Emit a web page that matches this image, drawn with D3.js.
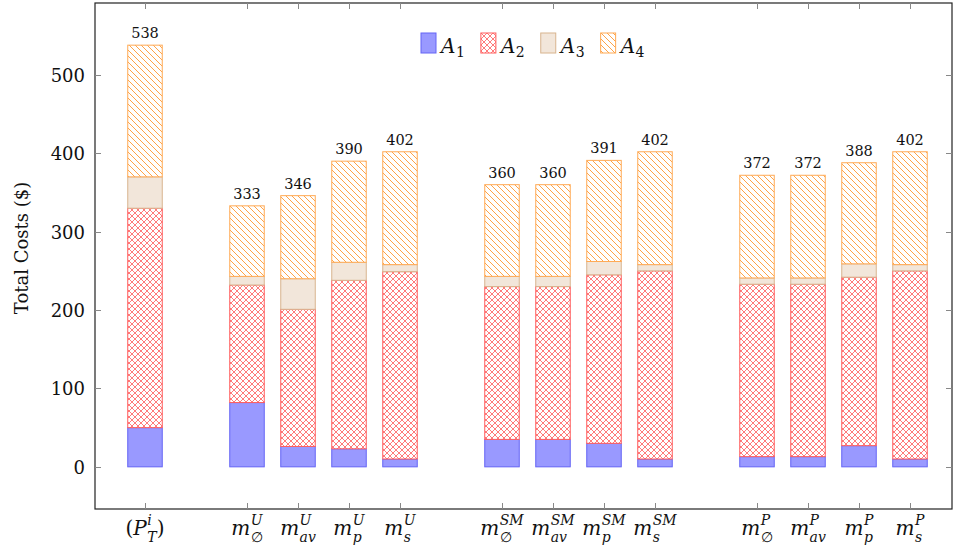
<!DOCTYPE html>
<html>
<head>
<meta charset="utf-8">
<script src="https://cdn.jsdelivr.net/npm/d3@7"></script>
<style>
  html, body { margin: 0; padding: 0; background: #fff; }
  svg { display: block; }
</style>
</head>
<body>
<svg id="chart" width="953" height="547" font-family="'DejaVu Serif', 'Liberation Serif', serif"></svg>
<script>
// Cost components per strategy (in $)
const categories = ["(P_{T}^{i})",
  "m_{∅}^{U}", "m_{av}^{U}", "m_{p}^{U}", "m_{s}^{U}",
  "m_{∅}^{SM}", "m_{av}^{SM}", "m_{p}^{SM}", "m_{s}^{SM}",
  "m_{∅}^{P}", "m_{av}^{P}", "m_{p}^{P}", "m_{s}^{P}"];
const groups = ["T", "U", "U", "U", "U", "SM", "SM", "SM", "SM", "P", "P", "P", "P"];
const seriesNames = ["A_1", "A_2", "A_3", "A_4"];
const A1 = [50, 82, 26, 23, 10, 35, 35, 30, 10, 13, 13, 27, 10];
const A2 = [280, 150, 175, 215, 239, 195, 195, 215, 240, 220, 220, 215, 240];
const A3 = [40, 11, 39, 23, 9, 13, 13, 17, 8, 8, 8, 17, 8];
const A4 = [168, 90, 106, 129, 144, 117, 117, 129, 144, 131, 131, 129, 144];
const yTicks = [0, 100, 200, 300, 400, 500];
const yLabel = "Total Costs ($)";

const svg = d3.select("#chart");
const plot = { left: 95, right: 952, top: 3, bottom: 509 };

// slot list: one empty slot between consecutive groups
const slots = [];
categories.forEach((c, i) => {
  if (i > 0 && groups[i] !== groups[i - 1]) slots.push("__gap" + i);
  slots.push(c);
});

const x = d3.scalePoint().domain(slots).range([plot.left + 50, plot.right - 42]);
const barW = 34.5;

const totals = categories.map((c, i) => A1[i] + A2[i] + A3[i] + A4[i]);
const yMax = d3.max(totals);
const pad = yMax * 0.1;
const y = d3.scaleLinear().domain([-pad, yMax + pad]).range([plot.bottom, plot.top]);

// fill patterns
const defs = svg.append("defs");
const p2 = defs.append("pattern").attr("id", "crosshatch")
  .attr("patternUnits", "userSpaceOnUse").attr("width", 6).attr("height", 6);
p2.append("rect").attr("width", 6).attr("height", 6).attr("fill", "#fff");
p2.append("path").attr("d", "M0,0L6,6M6,0L0,6")
  .attr("stroke", "#ff7a7a").attr("stroke-width", 1).attr("fill", "none");

const p4 = defs.append("pattern").attr("id", "nwlines")
  .attr("patternUnits", "userSpaceOnUse").attr("width", 6).attr("height", 6);
p4.append("rect").attr("width", 6).attr("height", 6).attr("fill", "#fff");
p4.append("path").attr("d", "M0,0L6,6M-1,5L1,7M5,-1L7,1")
  .attr("stroke", "#ffa347").attr("stroke-width", 1).attr("fill", "none");

const styles = [
  { fill: "#9999ff", stroke: "#6464f5" },
  { fill: "url(#crosshatch)", stroke: "#ff5c5c" },
  { fill: "#f2e6da", stroke: "#d8b48e" },
  { fill: "url(#nwlines)", stroke: "#ffaa55" }
];

const stackData = categories.map((c, i) => ({ cat: c, A_1: A1[i], A_2: A2[i], A_3: A3[i], A_4: A4[i] }));
const stacked = d3.stack().keys(seriesNames)(stackData);

const bars = svg.append("g");
stacked.forEach((layer, li) => {
  bars.append("g").selectAll("rect").data(layer).join("rect")
    .attr("x", d => x(d.data.cat) - barW / 2)
    .attr("width", barW)
    .attr("y", d => y(d[1]))
    .attr("height", d => y(d[0]) - y(d[1]))
    .attr("fill", styles[li].fill)
    .attr("stroke", styles[li].stroke)
    .attr("stroke-width", 1);
});

// totals above bars
svg.append("g").selectAll("text").data(categories).join("text")
  .attr("x", c => x(c))
  .attr("y", (c, i) => y(totals[i]) - 7)
  .attr("text-anchor", "middle")
  .attr("font-size", 14.5)
  .attr("fill", "#111")
  .text((c, i) => totals[i]);

// frame
const frame = svg.append("g");
frame.append("rect")
  .attr("x", plot.left).attr("y", plot.top)
  .attr("width", plot.right - plot.left).attr("height", plot.bottom - plot.top)
  .attr("fill", "none").attr("stroke", "#222").attr("stroke-width", 1.2);

// y ticks (inside, both sides)
const tickLen = 6;
yTicks.forEach(v => {
  const yy = Math.round(y(v)) + 0.5;
  frame.append("line").attr("x1", plot.left).attr("x2", plot.left + tickLen)
    .attr("y1", yy).attr("y2", yy).attr("stroke", "#888").attr("stroke-width", 1);
  frame.append("line").attr("x1", plot.right).attr("x2", plot.right - tickLen)
    .attr("y1", yy).attr("y2", yy).attr("stroke", "#888").attr("stroke-width", 1);
  frame.append("text").attr("x", plot.left - 10).attr("y", yy + 6.5)
    .attr("text-anchor", "end").attr("font-size", 18).attr("fill", "#111").text(v);
});

// x ticks (inside, bottom and top)
categories.forEach(c => {
  const xx = Math.round(x(c)) + 0.5;
  frame.append("line").attr("x1", xx).attr("x2", xx)
    .attr("y1", plot.bottom).attr("y2", plot.bottom - tickLen).attr("stroke", "#888");
  frame.append("line").attr("x1", xx).attr("x2", xx)
    .attr("y1", plot.top).attr("y2", plot.top + tickLen).attr("stroke", "#888");
});

// y-axis title
svg.append("text")
  .attr("transform", `translate(28,${(plot.top + plot.bottom) / 2 - 8}) rotate(-90)`)
  .attr("text-anchor", "middle").attr("font-size", 18).attr("fill", "#111")
  .text(yLabel);

// math-style label: prefix, italic base, stacked sup/sub, suffix
function parseLabel(s) {
  let pre = "", post = "";
  if (s.startsWith("(")) { pre = "("; s = s.slice(1); }
  if (s.endsWith(")")) { post = ")"; s = s.slice(0, -1); }
  const m = s.match(/^([^_^]+)(?:_\{([^}]*)\})?(?:\^\{([^}]*)\})?$/);
  return { pre, base: m[1], sub: m[2] || "", sup: m[3] || "", post };
}

function drawMath(g, lab, size, supDy, subDy) {
  let cx = 0;
  const put = (txt, dy, fs, italic) => {
    if (!txt) return 0;
    const t = g.append("text").attr("x", cx).attr("y", dy).attr("font-size", fs)
      .attr("fill", "#111")
      .attr("font-style", italic ? "italic" : "normal").text(txt);
    return t.node().getComputedTextLength();
  };
  cx += put(lab.pre, 0, size, false);
  cx += put(lab.base, 0, size, true) + 0.5;
  const supW = put(lab.sup, supDy, size * 0.7, !/^[0-9]+$/.test(lab.sup));
  const subW = put(lab.sub, subDy, size * 0.7, !/^[0-9∅]+$/.test(lab.sub));
  cx += Math.max(supW, subW);
  cx += put(lab.post, 0, size, false);
  return cx;
}

// x tick labels
categories.forEach(c => {
  const g = svg.append("g");
  const w = drawMath(g, parseLabel(c), 20, -10.5, 7);
  g.attr("transform", `translate(${x(c) - w / 2},535)`);
});

// legend
const legend = svg.append("g").attr("transform", "translate(421,33)");
let lx = 0;
seriesNames.forEach((name, i) => {
  legend.append("rect").attr("x", lx).attr("y", 0).attr("width", 15).attr("height", 20)
    .attr("fill", styles[i].fill).attr("stroke", styles[i].stroke);
  const g = legend.append("g").attr("transform", `translate(${lx + 20},20)`);
  const parts = name.split("_");
  const w = drawMath(g, { pre: "", base: parts[0], sub: parts[1], sup: "", post: "" }, 20, -10, 4);
  lx += 20 + w + 16;
});
</script>
</body>
</html>
